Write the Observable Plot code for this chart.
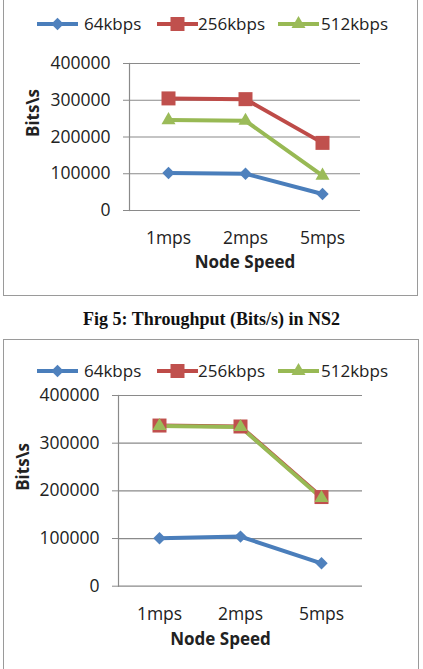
<!DOCTYPE html>
<html>
<head>
<meta charset="utf-8">
<script src="https://cdn.jsdelivr.net/npm/d3@7"></script>
<script src="https://cdn.jsdelivr.net/npm/@observablehq/plot@0.6"></script>
<style>
  html, body { margin: 0; padding: 0; background: #fff; }
  body { width: 423px; height: 669px; position: relative; overflow: hidden; font-family: "Open Sans", sans-serif; }
  .box { position: absolute; border: 1.5px solid #9a9a9a; box-sizing: border-box; }
  .legend { position: absolute; left: 0; width: 423px; height: 24px; }
  .caption { position: absolute; left: 0; width: 423px; text-align: center; font-family: "Liberation Serif", serif; font-weight: bold; font-size: 18px; color: #111; }
  svg.chart text { font-family: "Open Sans", sans-serif !important; }
</style>
</head>
<body>
<script>
const speeds = ["1mps", "2mps", "5mps"];
const seriesNames = ["64kbps", "256kbps", "512kbps"];
const yTicks = [0, 100000, 200000, 300000, 400000];

// Chart 1 values
const c1_64 = [102000, 100000, 45000];
const c1_256 = [305000, 303000, 184000];
const c1_512 = [246000, 244000, 95000];

// Chart 2 values
const c2_64 = [100500, 104000, 48000];
const c2_256 = [337000, 335000, 187000];
const c2_512 = [336000, 334000, 185000];

const captionText = "Fig 5: Throughput (Bits/s) in NS2";
const xTitle = "Node Speed";
const yTitle = "Bits\\s";

const lineColors = {"64kbps": "#4A7EBB", "256kbps": "#BE4B48", "512kbps": "#98B954"};
const markColors = {"64kbps": "#4F81BD", "256kbps": "#C0504D", "512kbps": "#9BBB59"};
const symbols = {"64kbps": "diamond2", "256kbps": "square", "512kbps": "triangle"};
const radii = {"64kbps": 5.6, "256kbps": 7.9, "512kbps": 5.2};

function toRows(a, b, c) {
  const rows = [];
  [a, b, c].forEach((vals, i) => vals.forEach((v, j) => rows.push({series: seriesNames[i], speed: speeds[j], value: v})));
  return rows;
}

function makeChart(rows, cfg) {
  const marks = [
    Plot.ruleY(yTicks, {stroke: "#8a8a8a", strokeWidth: 1.2}),
    Plot.frame({anchor: "left", stroke: "#8a8a8a", strokeWidth: 1.2}),
    Plot.axisY({ticks: yTicks, tickSize: 6, tickPadding: 13, stroke: "#8a8a8a", fill: "#222", tickFormat: d => String(d), label: null, fontSize: 17.5}),
    Plot.axisX({tickSize: 0, tickPadding: 21, fill: "#222", label: null, fontSize: 17.5}),
    Plot.text([xTitle], {frameAnchor: "bottom", dy: cfg.xTitleDy, dx: cfg.xTitleDx, fontWeight: "bold", fontSize: 17, fill: "#222"}),
    Plot.text([yTitle], {frameAnchor: "left", rotate: -90, dx: cfg.yTitleDx, fontWeight: "bold", fontSize: 17, fill: "#222"})
  ];
  for (const s of seriesNames) {
    const d = rows.filter(r => r.series === s);
    marks.push(Plot.line(d, {x: "speed", y: "value", stroke: lineColors[s], strokeWidth: 4, strokeLinejoin: "round", strokeLinecap: "round"}));
  }
  for (const s of seriesNames) {
    const d = rows.filter(r => r.series === s);
    marks.push(Plot.dot(d, {x: "speed", y: "value", symbol: () => symbols[s], r: radii[s], fill: markColors[s], stroke: "none"}));
  }
  const svg = Plot.plot({
    width: 423,
    height: cfg.height,
    className: "chart",
    marginLeft: cfg.ml, marginRight: cfg.mr, marginTop: cfg.mt, marginBottom: cfg.mb,
    style: {fontFamily: "'Open Sans', sans-serif", fontSize: "17px", background: "transparent", overflow: "visible"},
    x: {type: "point", domain: speeds, padding: 0.5, axis: null},
    y: {domain: [0, 400000], axis: null},
    symbol: {type: "identity"},
    marks
  });
  svg.style.position = "absolute";
  svg.style.left = "0px";
  svg.style.top = cfg.top + "px";
  return svg;
}

function makeLegend(top) {
  const div = document.createElement("div");
  div.className = "legend";
  div.style.top = (top - 12) + "px";
  const positions = [{line: 36, text: 84}, {line: 156, text: 198}, {line: 277, text: 321}];
  seriesNames.forEach((s, i) => {
    const sw = d3.create("svg").attr("width", 44).attr("height", 24)
      .style("position", "absolute").style("left", positions[i].line + "px").style("top", "0px");
    sw.append("line").attr("x1", 1).attr("x2", 42).attr("y1", 12).attr("y2", 12)
      .attr("stroke", lineColors[s]).attr("stroke-width", 4);
    const sym = {"64kbps": d3.symbolDiamond2, "256kbps": d3.symbolSquare, "512kbps": d3.symbolTriangle}[s];
    sw.append("path").attr("d", d3.symbol(sym, Math.PI * radii[s] * radii[s])())
      .attr("transform", "translate(21.5,12)").attr("fill", markColors[s]);
    div.appendChild(sw.node());
    const t = document.createElement("div");
    t.textContent = s;
    t.style.cssText = `position:absolute;left:${positions[i].text}px;top:0;line-height:24px;font-size:17px;color:#222;`;
    div.appendChild(t);
  });
  return div;
}

// Borders
const b1 = document.createElement("div");
b1.className = "box";
b1.style.cssText = "left:3px;top:-3px;width:415px;height:299px;";
document.body.appendChild(b1);
const b2 = document.createElement("div");
b2.className = "box";
b2.style.cssText = "left:3px;top:339px;width:416px;height:340px;";
document.body.appendChild(b2);

// Chart 1
document.body.appendChild(makeChart(toRows(c1_64, c1_256, c1_512), {
  top: 0, height: 295, ml: 129, mr: 63, mt: 63, mb: 85, xTitleDy: 57, xTitleDx: 0, yTitleDx: -96
}));
document.body.appendChild(makeLegend(24));

// Caption
const cap = document.createElement("div");
cap.className = "caption";
cap.style.top = "307px";
cap.style.lineHeight = "24px";
cap.textContent = captionText;
document.body.appendChild(cap);

// Chart 2
document.body.appendChild(makeChart(toRows(c2_64, c2_256, c2_512), {
  top: 330, height: 339, ml: 118, mr: 61, mt: 65, mb: 83.3, xTitleDy: 59, xTitleDx: -20, yTitleDx: -95
}));
document.body.appendChild(makeLegend(371));
</script>
</body>
</html>
